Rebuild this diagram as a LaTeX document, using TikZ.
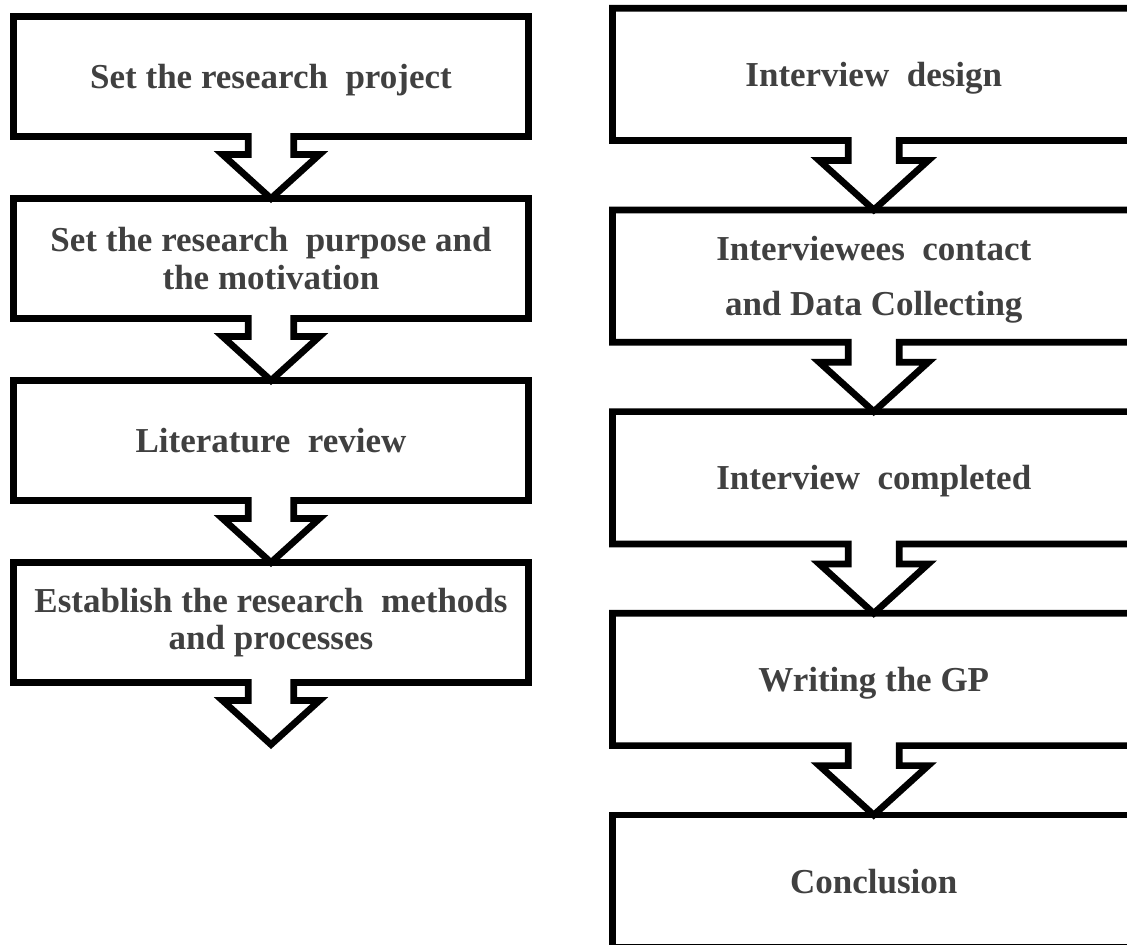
\documentclass[tikz,border=0pt]{standalone}
\usepackage{fontspec}
\setmainfont{Liberation Serif}
\usetikzlibrary{positioning, calc}

\begin{document}
\begin{tikzpicture}[x=0.5pt, y=-0.5pt,
        outline/.style={draw=black, line width=3.35pt},
        stage/.style={outer sep=0pt, inner sep=0pt, align=center, text=black!75,
            font=\fontsize{17.5pt}{18.75pt}\selectfont\bfseries},
        oneline/.style={text height=11.9pt, text depth=0pt},
        leftstage/.style={stage, minimum width=257.5pt, minimum height=60pt},
        rightstage/.style={stage, minimum width=261.25pt, minimum height=66.15pt}]
        \useasboundingbox (0,0) rectangle (1127,944);
        \clip (0,0) rectangle (1127,944);

        % Left column
        \node[leftstage, oneline] (l1) at (271, 76.5) {Set the research\enspace project};
        \node[leftstage] (l2) at (271, 258.5) {Set the research\enspace purpose and\\the motivation};
        \node[leftstage, oneline] (l3) at (271, 440.5) {Literature\enspace review};
        \node[leftstage] (l4) at (271, 622.5) {Establish the research\enspace methods\\and processes};
        \coordinate (lend) at (271, 744.5);

        % Right column
        \node[rightstage, oneline] (r1) at (873.75, 74.35) {Interview\enspace design};
        \node[rightstage, text depth=0pt] (r2) at (873.75, 276.05) {Interviewees\enspace contact\\[8.75pt]and Data Collecting};
        \node[rightstage, oneline] (r3) at (873.75, 477.75) {Interview\enspace completed};
        \node[rightstage, oneline] (r4) at (873.75, 679.45) {Writing the GP};
        \node[rightstage, oneline] (r5) at (873.75, 881.15) {Conclusion};

        % Boxes with arrow tabs
        \foreach \a/\b/\s/\d/\h in {l1/l2/11.35/9/24.25, l2/l3/11.35/9/24.25, l3/l4/11.35/9/24.25,
                l4/lend/11.35/9/24.25, r1/r2/12.75/10/27.25, r2/r3/12.75/10/27.25,
                r3/r4/12.75/10/27.25, r4/r5/12.75/10/27.25}
            \draw[outline] (\a.north west) -- (\a.north east) -- (\a.south east)
                -- ([xshift=\s pt]\a.south) -- ([xshift=\s pt, yshift=-\d pt]\a.south)
                -- ([xshift=\h pt, yshift=-\d pt]\a.south) -- (\b.90)
                -- ([xshift=-\h pt, yshift=-\d pt]\a.south) -- ([xshift=-\s pt, yshift=-\d pt]\a.south)
                -- ([xshift=-\s pt]\a.south) -- (\a.south west) -- cycle;
        \draw[outline] (r5.north west) rectangle (r5.south east);
    \end{tikzpicture}
\end{document}
